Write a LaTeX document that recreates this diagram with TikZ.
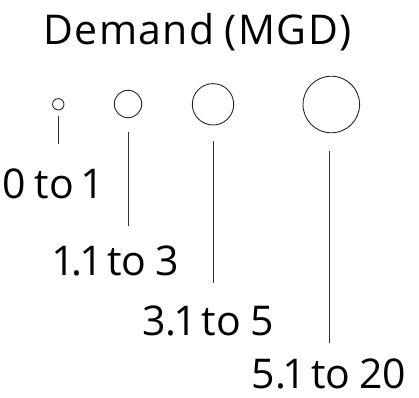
\documentclass[tikz,border=0pt]{standalone}
\usepackage{fontspec}
\setmainfont[Numbers=Proportional,WordSpace=0.85]{Open Sans}
\newfontfamily\titlefont[LetterSpace=3.5,WordSpace=0.85]{Open Sans}
\begin{document}
\begin{tikzpicture}[x=1pt,y=-1pt,
  lbl/.style={anchor=base,inner sep=0pt,font=\fontsize{41}{41}\selectfont},
  ttl/.style={anchor=base,inner sep=0pt,font=\titlefont\fontsize{41}{41}\selectfont},
  bub/.style={circle,draw=black!85,line width=0.9pt,inner sep=0pt},
  lead/.style={draw=black!80,line width=0.9pt}]
\useasboundingbox (0,0) rectangle (419,397);
\node[ttl] (title) at (197.5,44.3) {Demand (MGD)};
\node[bub,minimum size=11.4pt] (c1) at (58.3,104.3) {};
\node[bub,minimum size=27.4pt] (c2) at (128,104) {};
\node[bub,minimum size=41.4pt] (c3) at (213,104.3) {};
\node[bub,minimum size=56.6pt] (c4) at (331.3,104.5) {};
\coordinate (t1) at (58.3,116);
\coordinate (b1) at (58.3,144.3);
\coordinate (t2) at (128.3,132.3);
\coordinate (b2) at (128.3,225.7);
\coordinate (t3) at (213.7,141.3);
\coordinate (b3) at (213.7,283.3);
\coordinate (t4) at (329,150.7);
\coordinate (b4) at (329,342.7);
\draw[lead] (t1) -- (b1);
\draw[lead] (t2) -- (b2);
\draw[lead] (t3) -- (b3);
\draw[lead] (t4) -- (b4);
\node[lbl] (l1) at (51,198) {0 to 1};
\node[lbl] (l2) at (117,275) {1.1 to 3};
\node[lbl] (l3) at (208,335) {3.1 to 5};
\node[lbl] (l4) at (329,388.3) {5.1 to 20};
\end{tikzpicture}
\end{document}
